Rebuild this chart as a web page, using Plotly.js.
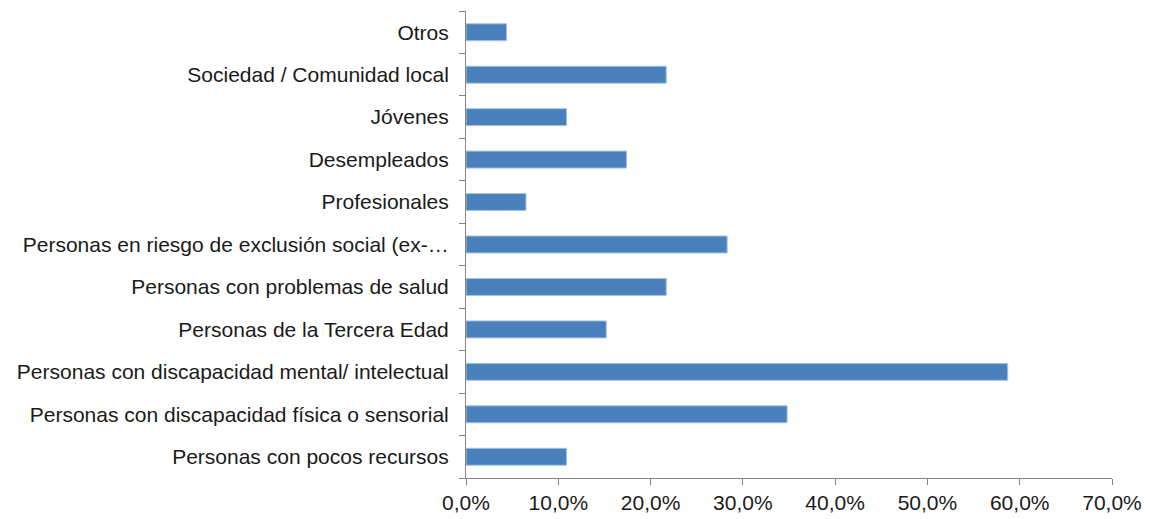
<!DOCTYPE html>
<html>
<head>
<meta charset="utf-8">
<script src="https://cdn.plot.ly/plotly-3.0.1.min.js"></script>
<style>html,body{margin:0;padding:0;background:#fff;}#chart{width:1149px;height:519px;}</style>
</head>
<body>
<div id="chart"></div>
<script>
// Categories from bottom to top
const categories = [
  "Personas con pocos recursos",
  "Personas con discapacidad física o sensorial",
  "Personas con discapacidad mental/ intelectual",
  "Personas de la Tercera Edad",
  "Personas con problemas de salud",
  "Personas en riesgo de exclusión social (ex-…",
  "Profesionales",
  "Desempleados",
  "Jóvenes",
  "Sociedad / Comunidad local",
  "Otros"
];
const values = [0.109, 0.348, 0.587, 0.152, 0.217, 0.283, 0.065, 0.174, 0.109, 0.217, 0.044];
const tickVals = [0, 0.1, 0.2, 0.3, 0.4, 0.5, 0.6, 0.7];
const tickText = ["0,0%", "10,0%", "20,0%", "30,0%", "40,0%", "50,0%", "60,0%", "70,0%"];

const trace = {
  type: "bar",
  orientation: "h",
  x: values,
  y: categories,
  marker: { color: "#4a81bd", line: { color: "#a9c4e4", width: 1 } },
  hoverinfo: "x+y"
};

const axisColor = "#868686";
const layout = {
  width: 1149,
  height: 519,
  margin: { l: 466, r: 37, t: 11, b: 41 },
  paper_bgcolor: "#ffffff",
  plot_bgcolor: "#ffffff",
  bargap: 0.6,
  showlegend: false,
  font: { family: "Liberation Sans, Arial, sans-serif", size: 21, color: "#1a1a1a" },
  xaxis: {
    range: [0, 0.7],
    tickvals: tickVals,
    ticktext: tickText,
    showgrid: false,
    zeroline: false,
    showline: true,
    linecolor: axisColor,
    linewidth: 1,
    ticks: "outside",
    ticklen: 6,
    tickcolor: axisColor,
    ticklabelstandoff: 0,
    tickfont: { size: 21, color: "#1a1a1a" },
    fixedrange: true
  },
  yaxis: {
    type: "category",
    categoryorder: "array",
    categoryarray: categories,
    showgrid: false,
    zeroline: false,
    showline: true,
    linecolor: axisColor,
    linewidth: 1,
    ticks: "outside",
    tickson: "boundaries",
    ticklen: 6,
    tickcolor: axisColor,
    ticklabelstandoff: 12,
    tickfont: { size: 21, color: "#1a1a1a" },
    fixedrange: true
  }
};

Plotly.newPlot("chart", [trace], layout, { displayModeBar: false, staticPlot: true });
</script>
</body>
</html>
